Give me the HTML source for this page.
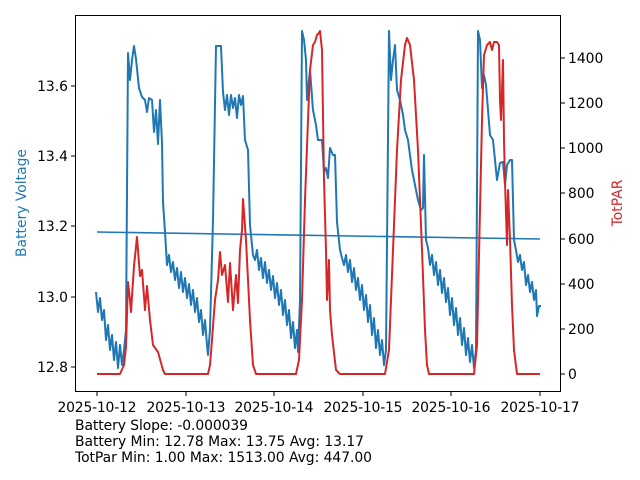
<!DOCTYPE html>
<html><head><style>body{margin:0;background:#fff}svg{display:block;font-family:"DejaVu Sans","Liberation Sans",sans-serif}</style></head><body>
<svg width="640" height="480" xmlns="http://www.w3.org/2000/svg">
<g fill="none" stroke-linejoin="round" stroke-width="2">
<polyline stroke="#1f77b4" stroke-width="1.6" points="97,232 540,239"/>
<polyline stroke="#1f77b4" points="96,292 98,312 100,298 102,320 104,310 106,340 108,325 110,350 112,335 114,360 116,342 118,368 120,345 122,365 124,350 126,330 128,53 130,80 132,60 134,46 136,59 139,88 142,97 145,100 147,112 149,98 152,100 154,132 156,110 158,144 160,100 162,143 163,202 165,232 167,265 169,255 171,272 173,262 175,280 177,268 179,288 181,272 183,292 185,278 187,298 189,284 191,305 193,290 195,312 197,298 199,322 201,310 203,335 205,320 207,345 208,355 210,330 213,220 216,46 221,46 223,92 225,110 227,95 229,115 231,95 233,108 235,98 237,118 239,95 241,105 243,96 245,140 248,150 250,225 253,255 255,260 257,250 259,270 261,258 263,278 265,262 267,283 269,270 271,290 273,276 275,298 277,283 279,305 281,290 283,315 285,300 287,325 289,310 291,338 293,322 295,348 297,330 298,352 300,300 302,31 304,40 306,60 307,100 310,70 313,110 316,125 318,140 322,140 324,172 326,168 328,178 330,148 333,155 335,155 337,222 340,250 342,258 344,265 346,255 348,272 350,260 352,282 354,268 356,290 358,278 360,300 362,285 364,310 366,295 368,322 370,305 372,335 374,318 376,348 378,330 380,355 382,340 384,365 386,350 389,31 391,80 393,60 395,45 397,90 400,100 403,115 405,130 408,140 412,170 415,185 418,200 421,210 423,208 424,155 426,240 428,248 430,265 432,255 434,275 436,262 438,285 440,270 442,293 444,278 446,302 448,288 450,315 452,298 454,325 456,308 458,335 460,318 462,345 464,328 466,355 468,338 470,362 472,345 474,368 476,350 478,31 480,40 482,88 484,75 486,85 488,110 490,135 493,140 495,160 497,180 500,163 503,162 505,185 507,165 510,160 512,160 514,240 516,250 518,262 520,255 522,270 524,262 526,285 528,275 530,292 532,282 534,300 536,290 537,316 539,306 541,306"/>
<polyline stroke="#d62728" points="97,374 120,374 124,365 126,347 128,282 130,300 131,312 134,266 137,237 140,276 142,270 145,310 147,286 150,320 153,345 158,352 163,370 165,374 208,374 210,365 212,340 215,300 218,280 220,252 222,275 225,265 228,302 230,263 233,310 236,275 238,303 240,250 242,230 243,199 246,240 248,280 250,320 253,365 256,374 296,374 299,360 302,300 305,200 308,120 310,70 313,45 315,42 317,35 319,33 320,31 322,50 324,180 326,250 327,300 329,260 330,310 332,335 336,370 340,374 385,374 389,350 393,250 397,150 401,80 405,45 407,38 410,45 414,80 418,150 422,250 425,330 427,365 429,374 474,374 477,345 480,210 482,120 484,55 487,45 490,42 492,50 494,42 497,42 499,45 500,100 501,120 503,60 504,140 505,182 507,245 508,190 510,240 512,305 514,350 517,374 540,374"/>
</g>
<rect x="75.5" y="15.5" width="485" height="376" fill="none" stroke="#000" stroke-width="1"/>
<g stroke="#000" stroke-width="1">
<line x1="71" x2="75" y1="367" y2="367"/><line x1="71" x2="75" y1="297" y2="297"/><line x1="71" x2="75" y1="226" y2="226"/><line x1="71" x2="75" y1="156" y2="156"/><line x1="71" x2="75" y1="86" y2="86"/>
<line x1="561" x2="565" y1="374" y2="374"/><line x1="561" x2="565" y1="329" y2="329"/><line x1="561" x2="565" y1="284" y2="284"/><line x1="561" x2="565" y1="239" y2="239"/><line x1="561" x2="565" y1="193" y2="193"/><line x1="561" x2="565" y1="148" y2="148"/><line x1="561" x2="565" y1="103" y2="103"/><line x1="561" x2="565" y1="58" y2="58"/>
<line x1="97" x2="97" y1="392" y2="396"/><line x1="186" x2="186" y1="392" y2="396"/><line x1="274" x2="274" y1="392" y2="396"/><line x1="363" x2="363" y1="392" y2="396"/><line x1="451" x2="451" y1="392" y2="396"/><line x1="540" x2="540" y1="392" y2="396"/>
</g>
<g font-size="13.9" fill="#000">
<g text-anchor="end"><text x="68" y="372">12.8</text><text x="68" y="302">13.0</text><text x="68" y="231">13.2</text><text x="68" y="161">13.4</text><text x="68" y="91">13.6</text></g>
<g><text x="568" y="379">0</text><text x="568" y="334">200</text><text x="568" y="289">400</text><text x="568" y="244">600</text><text x="568" y="198">800</text><text x="568" y="153">1000</text><text x="568" y="108">1200</text><text x="568" y="63">1400</text></g>
<g text-anchor="middle"><text x="97" y="412" textLength="79">2025-10-12</text><text x="186" y="412" textLength="79">2025-10-13</text><text x="274" y="412" textLength="79">2025-10-14</text><text x="363" y="412" textLength="79">2025-10-15</text><text x="451" y="412" textLength="79">2025-10-16</text><text x="540" y="412" textLength="79">2025-10-17</text></g>
<text transform="translate(26,203) rotate(-90)" text-anchor="middle" fill="#1f77b4">Battery Voltage</text>
<text transform="translate(622,203) rotate(-90)" text-anchor="middle" fill="#d62728">TotPAR</text>
<text x="75" y="430" textLength="173">Battery Slope: -0.000039</text>
<text x="75" y="446" textLength="289">Battery Min: 12.78 Max: 13.75 Avg: 13.17</text>
<text x="75" y="462" textLength="297">TotPar Min: 1.00 Max: 1513.00 Avg: 447.00</text>
</g>
</svg>
</body></html>
